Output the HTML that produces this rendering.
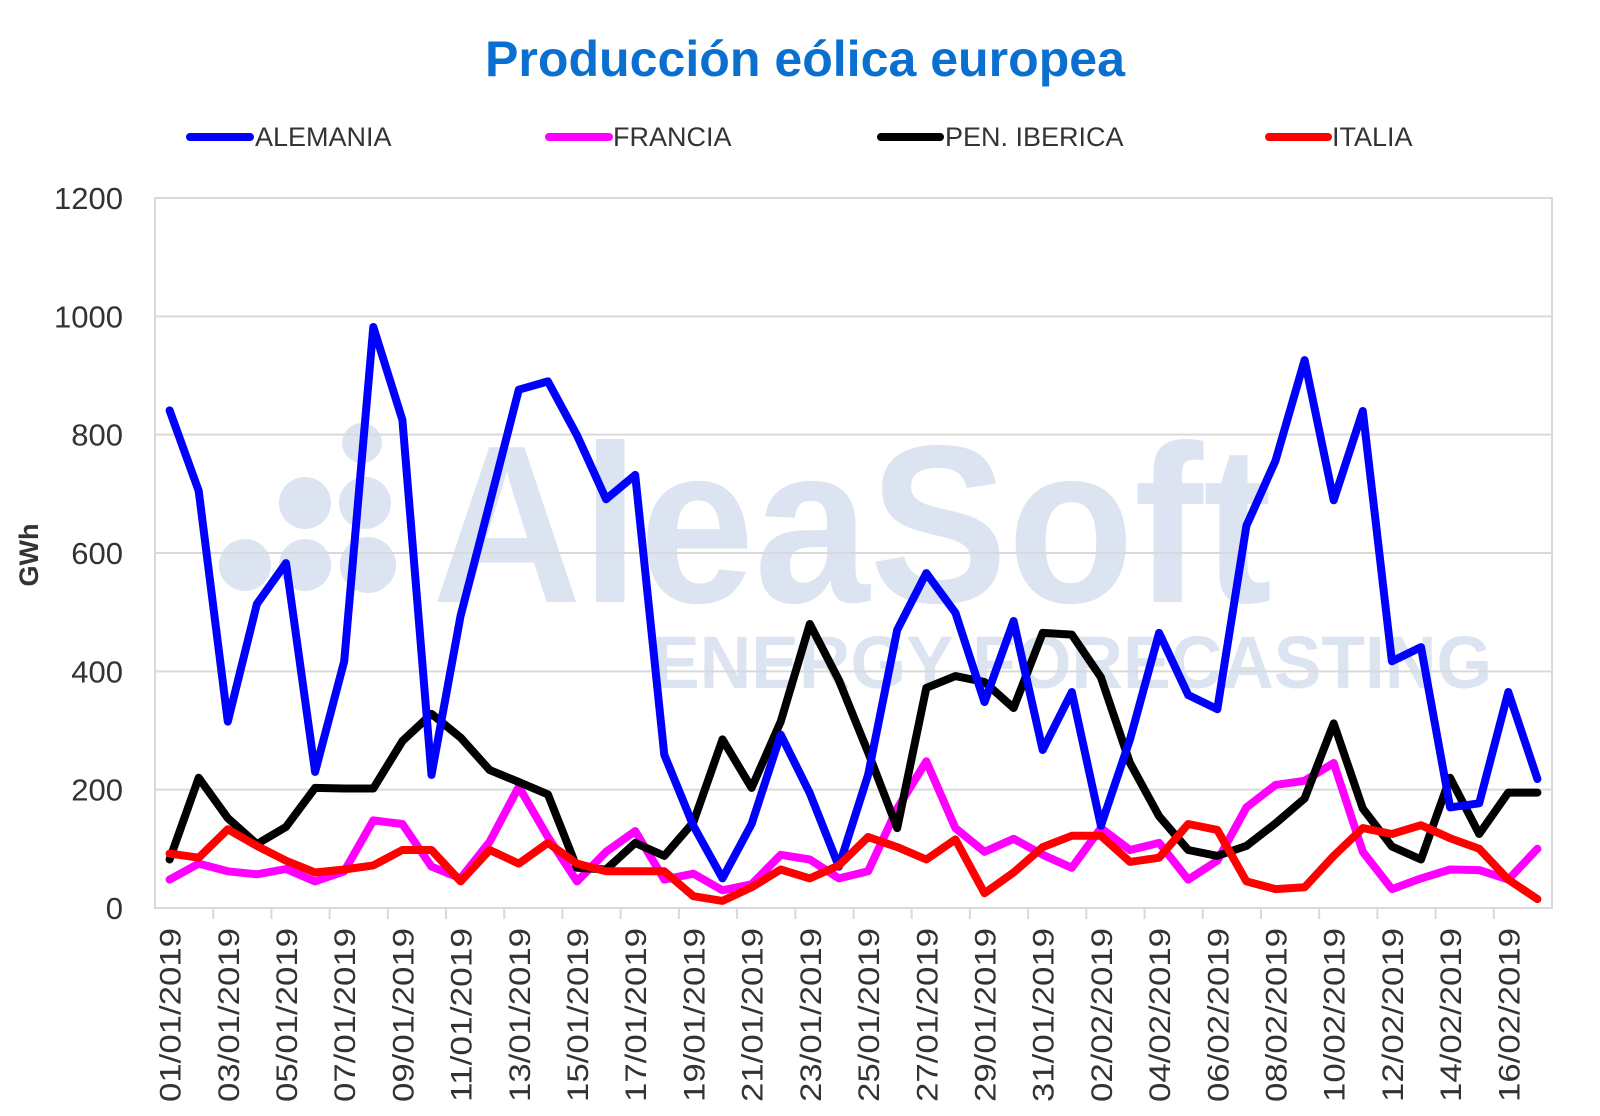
<!DOCTYPE html>
<html><head><meta charset="utf-8"><style>body{margin:0;background:#fff}svg{display:block}</style></head>
<body>
<svg id="s" width="1600" height="1116" xmlns="http://www.w3.org/2000/svg" font-family="Liberation Sans, sans-serif">
<rect width="1600" height="1116" fill="#fff"/>
<g fill="#dce4f1">
<text x="432" y="602" font-size="225" font-weight="bold" textLength="840" lengthAdjust="spacingAndGlyphs">AleaSoft</text>
<text x="652" y="688" font-size="74" font-weight="bold" textLength="840" lengthAdjust="spacingAndGlyphs">ENERGY FORECASTING</text>
<circle cx="362" cy="443" r="20"/><circle cx="305" cy="503" r="26"/><circle cx="365" cy="503" r="26"/>
<circle cx="245" cy="565" r="26"/><circle cx="305" cy="565" r="26"/><circle cx="368" cy="565" r="28"/>
</g>
<text x="805" y="76" text-anchor="middle" font-size="50" font-weight="bold" fill="#0b6fd0" textLength="640" lengthAdjust="spacingAndGlyphs">Producción eólica europea</text>
<g font-size="27" fill="#333">
<line x1="190" y1="137" x2="250" y2="137" stroke="#0000ff" stroke-width="8" stroke-linecap="round"/><text x="255" y="146">ALEMANIA</text>
<line x1="549" y1="137" x2="609" y2="137" stroke="#ff00ff" stroke-width="8" stroke-linecap="round"/><text x="613" y="146">FRANCIA</text>
<line x1="881" y1="137" x2="940" y2="137" stroke="#000" stroke-width="8" stroke-linecap="round"/><text x="945" y="146">PEN. IBERICA</text>
<line x1="1269" y1="137" x2="1328" y2="137" stroke="#ff0000" stroke-width="8" stroke-linecap="round"/><text x="1332" y="146">ITALIA</text>
</g>
<text transform="translate(38,555) rotate(-90)" text-anchor="middle" font-size="27" font-weight="bold" fill="#333">GWh</text>
<g id="g"></g>
</svg>
<script>
var g=document.getElementById('g'),h='';
var L=155,R=1552,T=198,B=908,cw=(R-L)/48;
function Y(v){return B-v*(B-T)/1200}
for(var v=0;v<=1200;v+=200){var y=Y(v);if(v>0)h+='<line x1="'+L+'" x2="'+R+'" y1="'+y+'" y2="'+y+'" stroke="#d9d9d9" stroke-width="2"/>';
h+='<text x="123" y="'+(y+11)+'" text-anchor="end" font-size="31" fill="#333">'+v+'</text>';}
h+='<rect x="'+L+'" y="'+T+'" width="'+(R-L)+'" height="'+(B-T)+'" fill="none" stroke="#d9d9d9" stroke-width="2"/>';
for(var k=1;k<24;k++){var x=L+k*2*cw;h+='<line x1="'+x+'" x2="'+x+'" y1="'+B+'" y2="'+(B+11)+'" stroke="#d9d9d9" stroke-width="2"/>';}
for(var i=0;i<48;i+=2){var d=new Date(2019,0,1+i);var s=('0'+d.getDate()).slice(-2)+'/'+('0'+(d.getMonth()+1)).slice(-2)+'/2019';var x=L+cw*(i+.5)+11;
h+='<text transform="translate('+x+',928) rotate(-90)" text-anchor="end" font-size="30" fill="#333" textLength="174" lengthAdjust="spacingAndGlyphs">'+s+'</text>';}
var S=[
['#ff00ff',[48,75,62,57,66,45,62,148,142,70,50,112,205,120,45,95,130,48,58,30,40,90,82,50,62,168,248,135,95,117,90,68,135,98,110,48,80,170,208,215,245,95,32,50,65,64,48,100]],
['#000',[82,220,152,108,137,203,202,202,282,328,288,233,213,192,68,65,110,88,145,285,203,315,480,385,263,135,372,392,382,338,465,462,390,245,155,98,88,105,143,185,312,168,104,82,220,125,195,195]],
['#0000ff',[841,705,315,514,583,230,417,982,825,225,494,684,876,890,799,691,732,259,139,50,142,293,194,70,225,470,566,499,348,485,267,365,139,285,465,360,336,646,756,926,689,840,417,441,170,177,365,218]],
['#ff0000',[92,85,133,105,80,60,65,72,98,98,45,98,75,110,75,62,62,62,20,12,35,65,50,72,120,103,82,116,25,60,103,122,122,78,85,142,132,45,32,35,88,135,125,140,118,100,48,15]]];
S.forEach(function(s){var p=s[1].map(function(v,i){return (L+cw*(i+.5)).toFixed(1)+','+Y(v).toFixed(1)}).join(' ');
h+='<polyline points="'+p+'" fill="none" stroke="'+s[0]+'" stroke-width="8" stroke-linejoin="round" stroke-linecap="round"/>';});
g.innerHTML=h;
</script>
</body></html>
